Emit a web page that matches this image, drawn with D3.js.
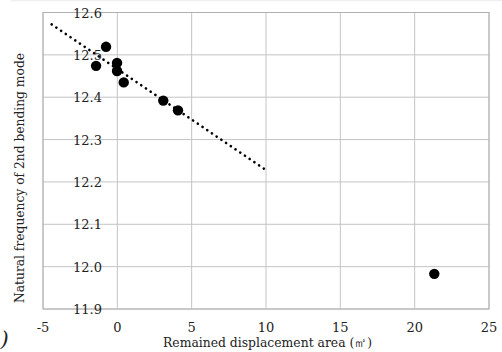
<!DOCTYPE html>
<html><head><meta charset="utf-8">
<script src="https://cdn.jsdelivr.net/npm/d3@7"></script>
<style>body{margin:0;background:#fff}svg{display:block}</style>
</head><body>
<script>
const xValues = [-1.43, -0.76, -0.02, -0.02, 0.43, 3.09, 4.08, 21.32];
const yValues = [12.474, 12.519, 12.481, 12.462, 12.435, 12.392, 12.369, 11.983];
const trendX = [-4.42, 10];
const trendY = [12.572, 12.228];
const xTicks = [-5, 0, 5, 10, 15, 20, 25];
const yTicks = [11.9, 12.0, 12.1, 12.2, 12.3, 12.4, 12.5, 12.6];
const xTitle = "Remained displacement area (㎡)";
const yTitle = "Natural frequency of 2nd bending mode";

const FONT = "'DejaVu Serif', serif";
const W = 502, H = 352;
const svg = d3.select("body").append("svg").attr("width", W).attr("height", H)
  .attr("font-family", FONT);
const L = 43, R = 489, T = 12.5, B = 309;
const x = d3.scaleLinear().domain([-5, 25]).range([L, R]);
const y = d3.scaleLinear().domain([11.9, 12.6]).range([B, T]);

svg.append("line").attr("x1", 11).attr("x2", W).attr("y1", 0.5).attr("y2", 0.5)
  .attr("stroke", "#eeeeee").attr("stroke-width", 1.5);

const g = svg.append("g");
g.selectAll(".vg").data(xTicks).join("line")
  .attr("x1", d => x(d)).attr("x2", d => x(d)).attr("y1", T).attr("y2", B)
  .attr("stroke", "#c4c4c4").attr("stroke-width", 1);
g.selectAll(".hg").data(yTicks).join("line")
  .attr("x1", L).attr("x2", R).attr("y1", d => y(d)).attr("y2", d => y(d))
  .attr("stroke", "#c4c4c4").attr("stroke-width", 1);
g.append("rect").attr("x", L).attr("y", T).attr("width", R - L).attr("height", B - T)
  .attr("fill", "none").attr("stroke", "#b0b0b0").attr("stroke-width", 1);

svg.selectAll(".yl").data(yTicks).join("text")
  .attr("x", 87.5).attr("y", d => y(d) + 5).attr("text-anchor", "middle")
  .attr("font-family", FONT).attr("fill", "#222")
  .attr("font-size", 13).text(d => d.toFixed(1));
svg.selectAll(".xl").data(xTicks).join("text")
  .attr("x", d => x(d)).attr("y", 332).attr("text-anchor", "middle")
  .attr("font-family", FONT).attr("fill", "#222")
  .attr("font-size", 13).text(d => d);

svg.append("path").datum(d3.zip(trendX, trendY))
  .attr("d", d3.line().x(d => x(d[0])).y(d => y(d[1])))
  .attr("fill", "none").attr("stroke", "#000").attr("stroke-width", 2.6)
  .attr("stroke-linecap", "round").attr("stroke-dasharray", "0.1 5.6");

svg.selectAll(".pt").data(d3.zip(xValues, yValues)).join("circle")
  .attr("cx", d => x(d[0])).attr("cy", d => y(d[1])).attr("r", 5.2).attr("fill", "#000");

svg.append("text").attr("x", 163).attr("y", 347).attr("font-family", FONT).attr("fill", "#222")
  .attr("font-size", 12.5).attr("textLength", 209).attr("lengthAdjust", "spacingAndGlyphs").text(xTitle);
svg.append("text").attr("transform", "translate(24,303) rotate(-90)").attr("font-family", FONT).attr("fill", "#222")
  .attr("font-size", 12.5).attr("textLength", 250).attr("lengthAdjust", "spacingAndGlyphs").text(yTitle);
svg.append("text").attr("x", 0.5).attr("y", 346).attr("font-size", 21).attr("font-family", FONT)
  .attr("font-style", "italic").attr("fill", "#222").text(")");
</script>
</body></html>
